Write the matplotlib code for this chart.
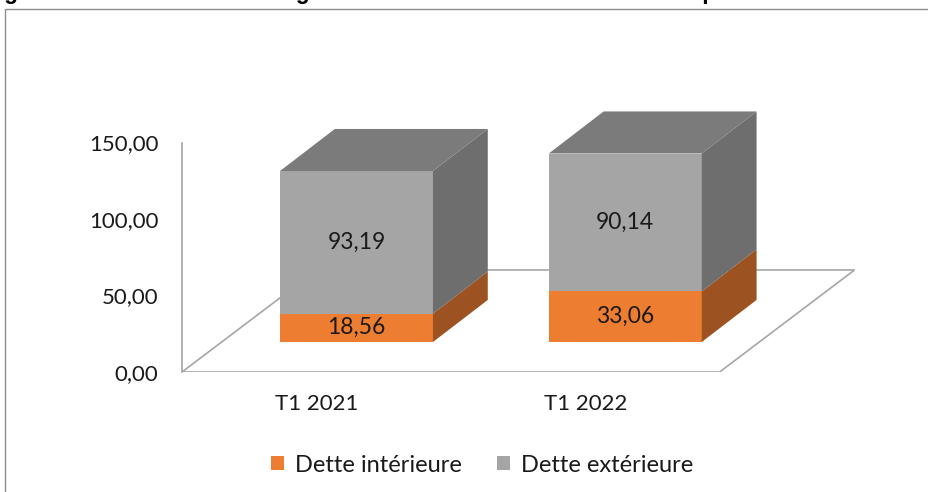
import matplotlib
matplotlib.use("Agg")
import matplotlib.pyplot as plt
from matplotlib.patches import Polygon, Rectangle, Patch
import numpy as np

# ---------------- data ----------------
categories = ["T1 2021", "T1 2022"]
dette_interieure = [18.56, 33.06]
dette_exterieure = [93.19, 90.14]
series_names = ["Dette intérieure", "Dette extérieure"]
yticks = [0, 50, 100, 150]
title = "Figure 4 : Evolution des charges d'intérêts de la dette au cours du premier trimestre"

# ---------------- style ----------------
front_colors = ["#ED7D31", "#A5A5A5"]
side_colors = ["#9C5221", "#6E6E6E"]
top_color = "#7B7B7B"
edge_gray = "#A6A6A6"
FONT = "Lato"
TXT = "#1A1A1A"

W = 0.569            # bar width (category units)
BDX, BDY = 0.149, 19.6   # offset of bar front from floor front (depth)
DX, DY = 0.204, 27.5     # bar depth
FDX, FDY = 0.502, 66.7   # floor depth

fig = plt.figure(figsize=(9.29, 4.92), dpi=100)
fig.patch.set_facecolor("white")

# chart border (cropped)
fig.patches.append(Rectangle((5.5 / 929, -0.1), 1.2, 1.1 - 8.5 / 492,
                             transform=fig.transFigure, fill=False,
                             edgecolor="#8C8C8C", linewidth=1.0))

# title (cropped at top, as in the reference)
fig.text(-16 / 929, 1 + 1.5 / 492, title, fontsize=16.4, fontweight="bold",
         family="Liberation Sans", ha="left", va="baseline", color="black")

ax = fig.add_axes([182 / 929, 1 - 372 / 492, (907.8 - 182) / 929, 275.4 / 492])
ax.set_xlim(-0.5, 2.2)
ax.set_ylim(0, 180)
ax.patch.set_alpha(0)

x = np.arange(len(categories))

# floor
floor = Polygon([(-0.5, 0), (x[-1] + 0.5, 0), (x[-1] + 0.5 + FDX, FDY), (-0.5 + FDX, FDY)],
                closed=True, fill=False, edgecolor=edge_gray, linewidth=1.2, zorder=1)
ax.add_patch(floor)

# bars
bottoms = np.zeros(len(categories))
for s, vals in enumerate([dette_interieure, dette_exterieure]):
    vals = np.asarray(vals)
    ax.bar(x + BDX, vals, width=W, bottom=BDY + bottoms, color=front_colors[s],
           edgecolor="none", zorder=3)
    for i in range(len(categories)):
        xr = x[i] + BDX + W / 2
        b = BDY + bottoms[i]
        t = b + vals[i]
        ax.add_patch(Polygon([(xr, b), (xr + DX, b + DY), (xr + DX, t + DY), (xr, t)],
                             closed=True, facecolor=side_colors[s], edgecolor="none", zorder=3))
        ax.text(x[i] + BDX, b + vals[i] / 2, f"{vals[i]:.2f}".replace(".", ","),
                ha="center", va="center", fontsize=16.5, family=FONT, color=TXT, zorder=5)
    bottoms = bottoms + vals

# top faces
for i in range(len(categories)):
    xl = x[i] + BDX - W / 2
    xr = x[i] + BDX + W / 2
    T = BDY + bottoms[i]
    ax.add_patch(Polygon([(xl, T), (xr, T), (xr + DX, T + DY), (xl + DX, T + DY)],
                         closed=True, facecolor=top_color, edgecolor="none", zorder=3))

# axes styling
for sp in ["top", "right", "bottom"]:
    ax.spines[sp].set_visible(False)
ax.spines["left"].set_bounds(0, 150)
ax.spines["left"].set_color(edge_gray)
ax.spines["left"].set_linewidth(1.2)
ax.set_yticks(yticks)
ax.set_yticklabels([f"{v:.2f}".replace(".", ",") for v in yticks])
ax.set_xticks(x)
ax.set_xticklabels(categories)
ax.tick_params(axis="y", length=0, pad=17, labelsize=16, labelcolor=TXT)
ax.tick_params(axis="x", length=0, pad=16, labelsize=16, labelcolor=TXT)
for lab in ax.get_xticklabels() + ax.get_yticklabels():
    lab.set_family(FONT)

# legend
handles = [Patch(facecolor=front_colors[0], edgecolor="none"),
           Patch(facecolor=front_colors[1], edgecolor="none")]
fig.legend(handles, series_names, loc="center", bbox_to_anchor=(482 / 929, 1 - 465 / 492),
           ncol=2, frameon=False, prop={"family": FONT, "size": 17},
           handlelength=0.55, handleheight=0.55, handletextpad=0.45, columnspacing=1.5,
           labelcolor=TXT)

fig.savefig("out.png", dpi=100)
